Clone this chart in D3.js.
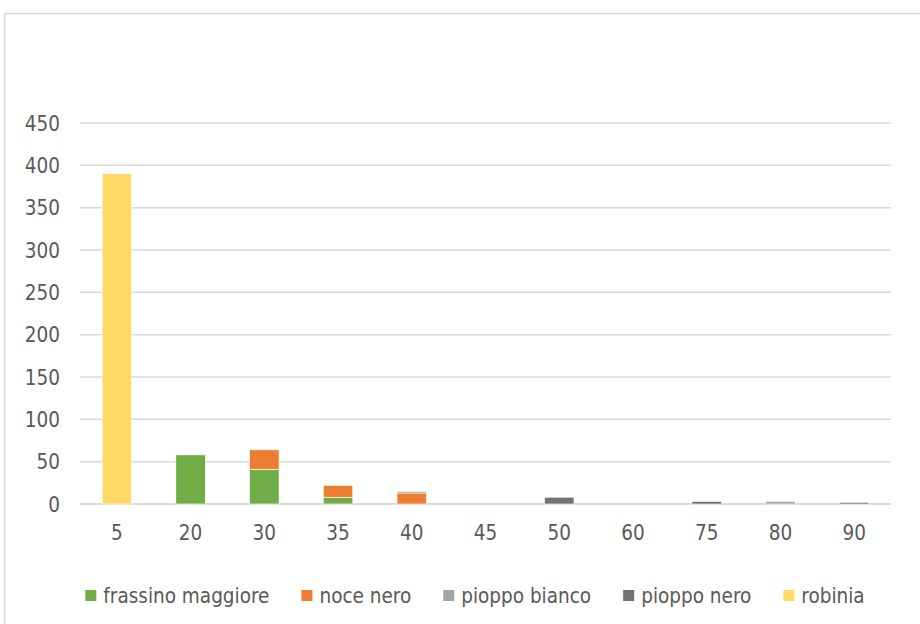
<!DOCTYPE html>
<html><head><meta charset="utf-8">
<script src="https://cdn.jsdelivr.net/npm/d3@7"></script>
<style>body{margin:0;background:#fff}svg{display:block}</style>
</head><body><svg id="c" width="920" height="624"></svg>
<script>
const categories = ["5","20","30","35","40","45","50","60","75","80","90"];
const seriesNames = ["frassino maggiore","noce nero","pioppo bianco","pioppo nero","robinia"];
const frassino = [0,58,41,8,0,0,0,0,0,0,0];
const noce     = [0,0,23,14,13,0,0,0,0,0,0];
const bianco   = [0,0,0,0,2,0,0,0,0,3,0];
const nero     = [0,0,0,0,0,0,8,0,3,0,2];
const robinia  = [390,0,0,0,0,0,0,0,0,0,0];
const yTicks = [0,50,100,150,200,250,300,350,400,450];
const colors = ["#70AD47","#ED7D31","#A5A5A5","#757171","#FFD966"];

const values = [frassino, noce, bianco, nero, robinia];
const rows = categories.map((c,i)=>{const r={cat:c}; seriesNames.forEach((s,j)=>r[s]=values[j][i]); return r;});
const stacked = d3.stack().keys(seriesNames)(rows);

const svg = d3.select("#c");
const font = "'Liberation Sans Narrow','DejaVu Sans Condensed',Roboto,sans-serif";
const fs = 20.5;
svg.append("rect").attr("x",4.5).attr("y",13.5).attr("width",940).attr("height",640)
  .attr("fill","#fff").attr("stroke","#d9d9d9").attr("stroke-width",1.5);

const x = d3.scaleBand().domain(categories).range([80,891]).paddingInner(0.6).paddingOuter(0.3);
const y = d3.scaleLinear().domain([0,450]).range([504,123]);

const grid = svg.append("g");
grid.selectAll("line").data(yTicks).join("line")
  .attr("x1",80).attr("x2",891).attr("y1",d=>y(d)).attr("y2",d=>y(d))
  .attr("stroke","#d9d9d9").attr("stroke-width",d=>d===0?2:1.5);

const yAxis = svg.append("g").attr("transform","translate(60,0)")
  .call(d3.axisLeft(y).tickValues(yTicks).tickSize(0).tickPadding(0));
yAxis.select(".domain").remove();
yAxis.selectAll("text").attr("font-family",font).attr("font-size",fs).attr("fill","#595959").attr("dy","0.35em");

const xAxis = svg.append("g").attr("transform","translate(0,533)")
  .call(d3.axisBottom(x).tickSize(0).tickPadding(0));
xAxis.select(".domain").remove();
xAxis.selectAll("text").attr("font-family",font).attr("font-size",fs).attr("fill","#595959").attr("dy","0.35em");

svg.append("g").selectAll("g").data(stacked).join("g").attr("fill",(d,i)=>colors[i])
  .selectAll("rect").data(d=>d.filter(p=>p[1]-p[0]>0)).join("rect")
  .attr("x",d=>x(d.data.cat)).attr("width",x.bandwidth())
  .attr("y",d=>y(d[1])).attr("height",d=>y(d[0])-y(d[1]))
  .attr("stroke","#fff").attr("stroke-width",0.6);

// legend
const leg = svg.append("g");
const gap = 32;
let cx = 0;
seriesNames.forEach((s,i)=>{
  const g = leg.append("g").attr("transform",`translate(${cx},0)`);
  g.append("rect").attr("x",0).attr("y",-6).attr("width",11).attr("height",11).attr("fill",colors[i]);
  const t = g.append("text").attr("x",18).attr("y",0).attr("dy","0.35em").text(s)
    .attr("font-family",font).attr("font-size",fs).attr("fill","#595959");
  const w = t.node().getComputedTextLength();
  cx += 18 + w + gap;
});
const total = cx - gap;
leg.attr("transform",`translate(${475 - total/2},596)`);
</script></body></html>
